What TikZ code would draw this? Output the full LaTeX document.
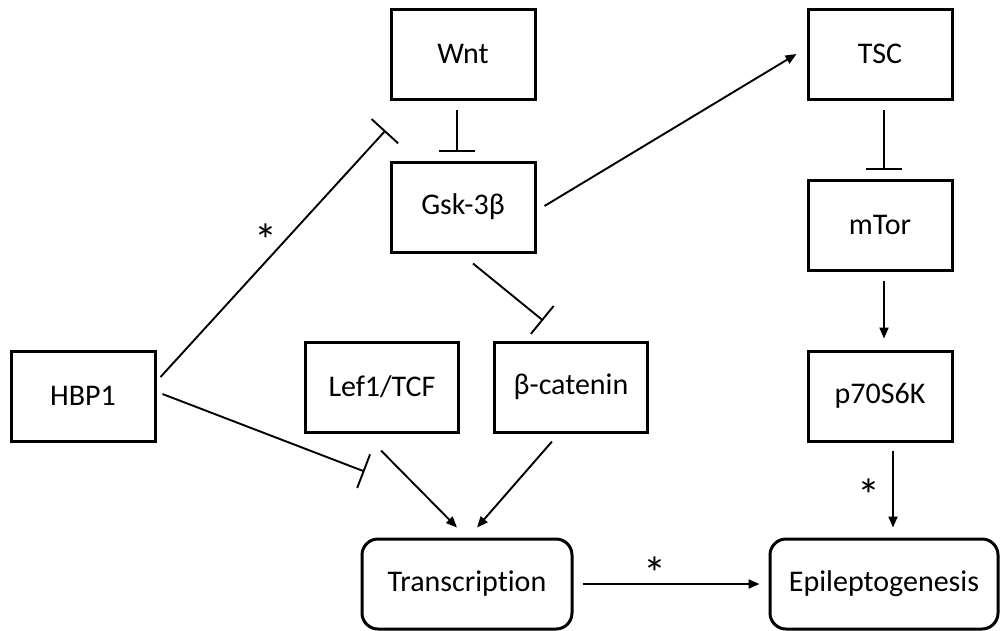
\documentclass[tikz,border=0pt]{standalone}
\usepackage{fontspec}
\setmainfont{Carlito}[Ligatures=NoCommon]
\usetikzlibrary{arrows.meta,calc}
\begin{document}
\begin{tikzpicture}[x=1pt,y=-1pt,
  every node/.style={font=\fontsize{30}{36}\selectfont},
  box/.style={draw,line width=3pt,minimum width=144pt,minimum height=90pt,inner sep=0pt},
  wbox/.style={box,minimum width=153pt},
  rbox/.style={box,rounded corners=16pt},
  conn/.style={line width=1.9pt},
  act/.style={conn,-{Triangle[length=11pt,width=9pt]}},
  inh/.style={conn,-{Bar[width=36pt,line width=1.9pt]}},
  star/.style={inner sep=0pt,font=\fontsize{46}{50}\selectfont}]
\useasboundingbox (0,0) rectangle (1000,630);
\node[box] (wnt) at (463,54) {Wnt};
\node[box] (gsk) at (463,207) {Gsk-3β};
\node[box] (tsc) at (880,54) {TSC};
\node[box] (mtor) at (880,225) {mTor};
\node[box] (p70) at (880,396) {p70S6K};
\node[box] (hbp) at (83,396) {HBP1};
\node[wbox] (lef) at (382,387) {Lef1/TCF};
\node[wbox] (bcat) at (571,387) {β-catenin};
\node[rbox,minimum width=210pt] (trans) at (467,584) {Transcription};
\node[rbox,minimum width=228pt] (epi) at (884,584) {Epileptogenesis};

\draw[inh] ($(hbp.east)+(4,-19)$) -- ($(wnt.south west)+(-4,30)$);
\draw[inh] ($(wnt.south)+(-6,9)$) -- ($(gsk.north)+(-6,-9)$);
\draw[act] ($(gsk.east)+(8,-1)$) -- ($(tsc.west)+(-10,0)$);
\draw[inh] ($(gsk.south)+(10,10)$) -- ($(bcat.north)+(-28,-20)$);
\draw[inh] ($(tsc.south)+(4,9)$) -- ($(mtor.north)+(4,-9)$);
\draw[act] ($(mtor.south)+(4,9)$) -- ($(p70.north)+(4,-11)$);
\draw[act] ($(p70.south)+(13,8)$) -- ($(epi.north)+(9,-10)$);
\draw[inh] ($(hbp.east)+(6,-2)$) -- ($(trans.north west)+(4,-66)$);
\draw[act] ($(lef.south)+(-1,17)$) -- ($(trans.north)+(-10,-10)$);
\draw[act] ($(bcat.south)+(-19,8)$) -- ($(trans.north)+(10,-10)$);
\draw[act] ($(trans.east)+(9,0)$) -- ($(epi.west)+(-9,0)$);

\node[star] (s1) at (266,240) {*};
\node[star] (s2) at (869,495) {*};
\node[star] (s3) at (655,573) {*};
\end{tikzpicture}
\end{document}
